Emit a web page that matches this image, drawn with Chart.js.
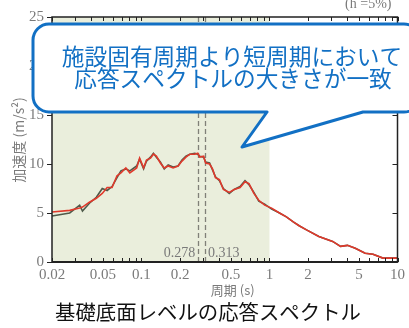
<!DOCTYPE html>
<html>
<head>
<meta charset="utf-8">
<script src="https://cdn.jsdelivr.net/npm/chart.js@4"></script>
<style>
  html, body { margin: 0; padding: 0; background: #fff; }
  #wrap { width: 409px; height: 328px; position: relative; }
</style>
</head>
<body>
<div id="wrap"><canvas id="spec"></canvas></div>
<script>
/* ── データ ── */
const periods = [0.020, 0.0275, 0.0329, 0.0346, 0.0392, 0.0444, 0.0494, 0.0539, 0.0589, 0.0644,
	0.0691, 0.0755, 0.0811, 0.0917, 0.0967, 0.1039, 0.1095, 0.1176, 0.1240, 0.1308,
	0.1404, 0.1506, 0.1617, 0.1767, 0.1930, 0.2072, 0.2225, 0.2388, 0.2609, 0.2751,
	0.2850, 0.3059, 0.3170, 0.3403, 0.3589, 0.3785, 0.4064, 0.4363, 0.4850, 0.5300,
	0.5892, 0.6439, 0.6912, 0.7551, 0.8250, 0.9170, 1.039, 1.197, 1.355, 1.533,
	1.705, 1.930, 2.430, 3.114, 3.589, 4.064, 4.679, 5.588, 6.439, 7.683, 10.0];
const accRed = [5.1, 5.27, 5.5, 5.6, 6.1, 6.5, 7.0, 7.6, 7.6, 8.8,
	9.1, 9.6, 9.1, 9.6, 10.6, 9.6, 10.4, 10.6, 11.0, 10.8,
	10.1, 9.6, 9.8, 9.6, 9.8, 10.3, 10.7, 11.0, 11.0, 11.1,
	10.7, 10.8, 10.1, 10.0, 9.5, 8.6, 8.4, 7.4, 7.1, 7.4,
	7.6, 8.2, 8.0, 7.0, 6.3, 5.8, 5.5, 5.0, 4.6, 4.1,
	3.7, 3.3, 2.6, 2.1, 1.6, 1.7, 1.4, 0.9, 0.8, 0.4, 0.4];
const accGray = [4.7, 5.0, 5.8, 5.2, 6.0, 6.6, 7.5, 7.3, 7.7, 8.6,
	9.3, 9.5, 9.3, 9.8, 10.5, 9.5, 10.3, 10.7, 11.1, 10.7,
	10.2, 9.5, 9.9, 9.7, 9.8, 10.4, 10.8, 11.0, 11.1, 11.0,
	10.8, 10.7, 10.2, 10.1, 9.4, 8.7, 8.3, 7.5, 7.0, 7.4,
	7.7, 8.3, 7.9, 7.1, 6.2, 5.9, 5.4, 5.0, 4.6, 4.1,
	3.7, 3.3, 2.6, 2.1, 1.6, 1.7, 1.4, 0.9, 0.8, 0.4, 0.4];
const xTicks = [0.02, 0.05, 0.1, 0.2, 0.5, 1, 2, 5, 10];
const xTickLabels = ['0.02', '0.05', '0.1', '0.2', '0.5', '1', '2', '5', '10'];
const yTicks = [0, 5, 10, 15, 20, 25];
const markPeriods = [0.278, 0.313];
const markLabels = ['0.278', '0.313'];
const shadeRange = [0.02, 1];

const SERIF = '"Liberation Serif", "DejaVu Serif", serif';
const JP = '"Noto Sans CJK JP", "Noto Sans", sans-serif';
const GRAY_TXT = '#7a7a7a';

/* ── 装飾プラグイン ── */
function minorTicks() {
	const out = [];
	[0.01, 0.1, 1].forEach(function(d) {
		for (let m = 1; m <= 9; m++) {
			const v = +(m * d).toFixed(4);
			if (v >= 0.02 && v <= 10) out.push(v);
		}
	});
	out.push(10);
	return out;
}

const decor = {
	id: 'decor',
	beforeDatasetsDraw(chart) {
		const { ctx, chartArea: a, scales: { x, y } } = chart;
		ctx.save();
		// 施設固有周期より短周期の範囲
		ctx.fillStyle = '#eaeedc';
		const x0 = x.getPixelForValue(shadeRange[0]);
		const x1 = x.getPixelForValue(shadeRange[1]);
		ctx.fillRect(x0, a.top, x1 - x0, a.bottom - a.top);
		// 固有周期の破線
		ctx.strokeStyle = '#808078';
		ctx.lineWidth = 1.3;
		ctx.setLineDash([5, 3]);
		markPeriods.forEach(function(p) {
			const px = Math.round(x.getPixelForValue(p)) + 0.5;
			ctx.beginPath();
			ctx.moveTo(px, a.top);
			ctx.lineTo(px, a.bottom);
			ctx.stroke();
		});
		ctx.setLineDash([]);
		ctx.fillStyle = GRAY_TXT;
		ctx.font = '14px ' + SERIF;
		ctx.textBaseline = 'middle';
		ctx.textAlign = 'right';
		ctx.fillText(markLabels[0], x.getPixelForValue(markPeriods[0]) - 3, a.bottom - 9);
		ctx.textAlign = 'left';
		ctx.fillText(markLabels[1], x.getPixelForValue(markPeriods[1]) + 3, a.bottom - 9);
		ctx.restore();
	},
	afterDraw(chart) {
		const { ctx, chartArea: a, scales: { x, y } } = chart;
		ctx.save();
		// 枠
		ctx.strokeStyle = '#222';
		ctx.lineWidth = 1.5;
		ctx.strokeRect(a.left, a.top, a.right - a.left, a.bottom - a.top);
		ctx.lineWidth = 2;
		ctx.beginPath();
		ctx.moveTo(a.left, a.bottom);
		ctx.lineTo(a.right, a.bottom);
		ctx.stroke();
		// 目盛り (内向き)
		ctx.lineWidth = 1;
		minorTicks().forEach(function(v) {
			const px = Math.round(x.getPixelForValue(v)) + 0.5;
			ctx.beginPath();
			ctx.moveTo(px, a.bottom); ctx.lineTo(px, a.bottom - 4);
			ctx.moveTo(px, a.top); ctx.lineTo(px, a.top + 4);
			ctx.stroke();
		});
		yTicks.forEach(function(v) {
			const py = Math.round(y.getPixelForValue(v)) + 0.5;
			ctx.beginPath();
			ctx.moveTo(a.left - 5, py); ctx.lineTo(a.left, py);
			ctx.moveTo(a.right, py); ctx.lineTo(a.right - 5, py);
			ctx.stroke();
		});
		// 減衰定数
		ctx.fillStyle = GRAY_TXT;
		ctx.font = '14px ' + SERIF;
		ctx.textAlign = 'right';
		ctx.textBaseline = 'middle';
		ctx.fillText('(h =5%)', a.right - 6, 4);
		// 軸タイトル
		ctx.font = '13px ' + JP;
		ctx.textAlign = 'center';
		ctx.fillText('周期 (s)', (a.left + a.right) / 2 + 8, 290);
		ctx.save();
		ctx.translate(19, 140);
		ctx.rotate(-Math.PI / 2);
		ctx.font = '14px ' + JP;
		ctx.fillText('加速度 (m/s²)', 0, 0);
		ctx.restore();
		// キャプション
		ctx.fillStyle = '#111';
		ctx.font = '20.4px ' + JP;
		ctx.fillText('基礎底面レベルの応答スペクトル', 208, 312);
		// 吹き出し
		const L = 33, T = 24, R = 420, B = 112, r = 16;
		ctx.beginPath();
		ctx.moveTo(L + r, T);
		ctx.lineTo(R - r, T);
		ctx.arcTo(R, T, R, T + r, r);
		ctx.lineTo(R, B - r);
		ctx.arcTo(R, B, R - r, B, r);
		ctx.lineTo(363, B);
		ctx.lineTo(242, 147);
		ctx.lineTo(267, B);
		ctx.lineTo(L + r, B);
		ctx.arcTo(L, B, L, B - r, r);
		ctx.lineTo(L, T + r);
		ctx.arcTo(L, T, L + r, T, r);
		ctx.closePath();
		ctx.fillStyle = '#fff';
		ctx.fill();
		ctx.strokeStyle = '#1270c4';
		ctx.lineWidth = 3;
		ctx.lineJoin = 'round';
		ctx.stroke();
		ctx.fillStyle = '#1270c4';
		ctx.font = '22.7px ' + JP;
		ctx.textAlign = 'center';
		ctx.fillText('施設固有周期より短周期において', 232, 56);
		ctx.fillText('応答スペクトルの大きさが一致', 233, 78);
		ctx.restore();
	}
};

/* ── チャート ── */
function toPoints(vals) {
	return periods.map(function(p, i) { return { x: p, y: vals[i] }; });
}

new Chart(document.getElementById('spec'), {
	type: 'line',
	data: {
		datasets: [
			{ data: toPoints(accRed),  borderColor: '#e0392b', borderWidth: 1.6, pointRadius: 0, tension: 0, order: 0 },
			{ data: toPoints(accGray), borderColor: '#4f5a4a', borderWidth: 1.6, pointRadius: 0, tension: 0, order: 1 }
		]
	},
	options: {
		responsive: true,
		maintainAspectRatio: false,
		animation: false,
		layout: { padding: { left: 0, top: 12, right: 7, bottom: 0 } },
		plugins: { legend: { display: false }, tooltip: { enabled: false } },
		scales: {
			x: {
				type: 'logarithmic',
				min: 0.02, max: 10,
				grid: { display: false, drawTicks: false },
				border: { display: false },
				afterBuildTicks: function(s) { s.ticks = xTicks.map(function(v) { return { value: v }; }); },
				afterFit: function(s) { s.height = 66; },
				ticks: {
					autoSkip: false, maxRotation: 0, padding: 4,
					color: GRAY_TXT, font: { family: SERIF, size: 15 },
					callback: function(v) { const i = xTicks.indexOf(v); return i >= 0 ? xTickLabels[i] : ''; }
				}
			},
			y: {
				min: 0, max: 25,
				grid: { display: false, drawTicks: false },
				border: { display: false },
				afterFit: function(s) { s.width = 52; },
				ticks: { stepSize: 5, padding: 8, color: GRAY_TXT, font: { family: SERIF, size: 15 } }
			}
		}
	},
	plugins: [decor]
});
</script>
</body>
</html>
